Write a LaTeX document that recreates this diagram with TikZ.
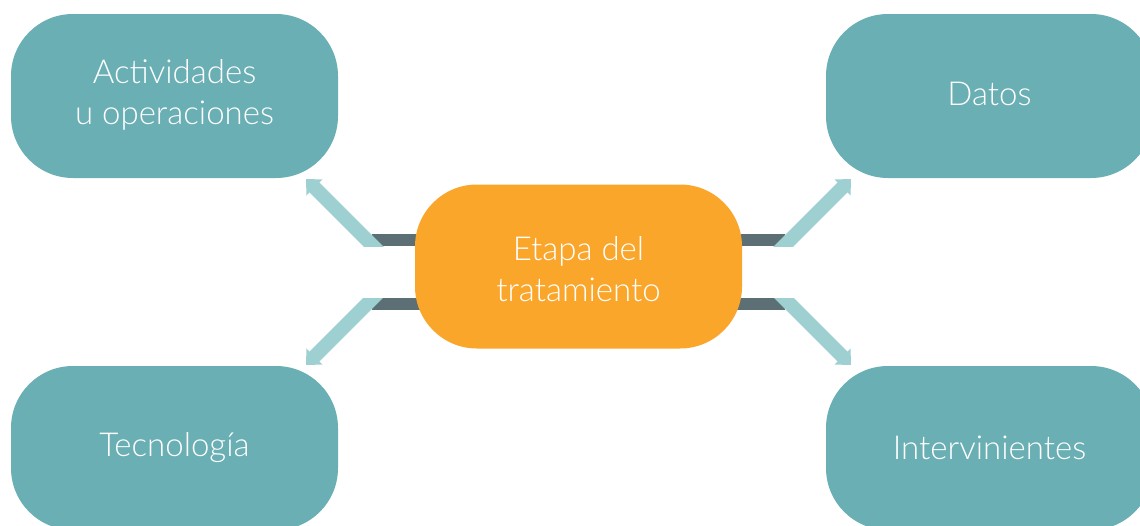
\documentclass[tikz,border=0pt]{standalone}
\usepackage{fontspec}
\setmainfont{Lato Light}
\usetikzlibrary{arrows.meta,backgrounds}
\definecolor{boxteal}{HTML}{6AAFB4}
\definecolor{boxorange}{HTML}{F9A62B}
\definecolor{bandlight}{HTML}{9ED0D2}
\definecolor{bardark}{HTML}{5B6F74}
\begin{document}
\begin{tikzpicture}[x=1pt,y=-1pt,
  box/.style={draw=none, fill=boxteal, rounded corners=62pt, minimum width=327pt,
    minimum height=164pt, inner sep=0pt, text=white, align=center,
    font=\fontsize{33}{41}\selectfont},
  hub/.style={box, fill=boxorange},
  bar/.style={draw=bardark, line width=12pt},
  band/.style={draw=bandlight, line width=14pt, -{Triangle[length=12pt,width=22pt]}},
]
\clip (0,0) rectangle (1140,525);

\node[box] (act) at (174.5,96) {\begin{tabular}{@{}c@{}}Actividades\\u operaciones\end{tabular}};
\node[box] (dat) at (989.5,96) {\raisebox{2pt}[\height][\depth]{Datos}};
\node[box] (tec) at (174.5,448) {Tecnología};
\node[box] (int) at (989.5,448) {Intervinientes};
\node[hub] (eta) at (578.5,266.5) {\raisebox{-6pt}[\height][\depth]{\begin{tabular}{@{}c@{}}Etapa del\\tratamiento\end{tabular}}};

\coordinate (tlbar) at (372,240);
\coordinate (trbar) at (785,240);
\coordinate (blbar) at (372,304);
\coordinate (brbar) at (785,304);
\coordinate (tlstart) at (381,254);
\coordinate (trstart) at (776,254);
\coordinate (blstart) at (381,290);
\coordinate (brstart) at (776,290);
\coordinate (tltip) at (306,179);
\coordinate (trtip) at (851,179);
\coordinate (bltip) at (306,365);
\coordinate (brtip) at (851,365);

\begin{scope}[on background layer]
  \fill[white] (0,0) rectangle (1140,525);
  \draw[bar] (tlbar) -- (tlbar -| eta.center);
  \draw[bar] (trbar) -- (trbar -| eta.center);
  \draw[bar] (blbar) -- (blbar -| eta.center);
  \draw[bar] (brbar) -- (brbar -| eta.center);
\end{scope}

\begin{scope}
  \clip (0,0) rectangle (1140,246);
  \draw[band] (tlstart) -- (tltip);
  \draw[band] (trstart) -- (trtip);
\end{scope}
\begin{scope}
  \clip (0,298) rectangle (1140,525);
  \draw[band] (blstart) -- (bltip);
  \draw[band] (brstart) -- (brtip);
\end{scope}
\end{tikzpicture}
\end{document}
